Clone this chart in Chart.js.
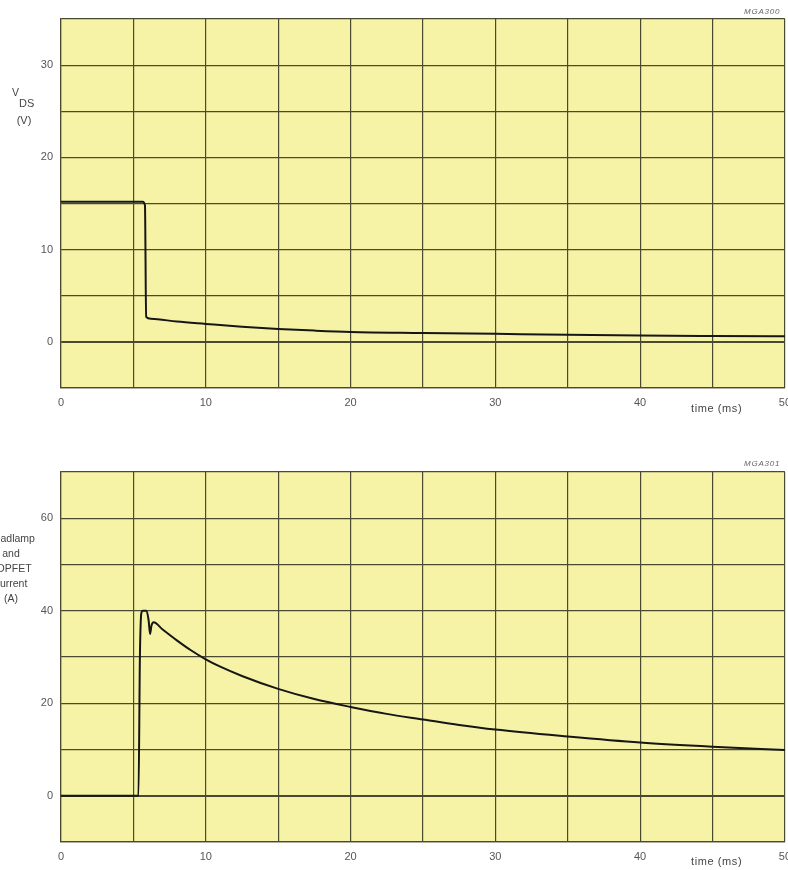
<!DOCTYPE html>
<html><head><meta charset="utf-8">
<script src="https://cdn.jsdelivr.net/npm/chart.js@4/dist/chart.umd.min.js"></script>
<style>
html,body{margin:0;padding:0;background:#fff;width:788px;height:870px;overflow:hidden;position:relative;font-family:"Liberation Sans",Arial,sans-serif;}
.box{position:absolute;left:0;width:799px;}
.lbl{position:absolute;color:#444;font-size:11px;white-space:nowrap;}
.code{position:absolute;color:#666;font-size:8px;font-style:italic;letter-spacing:0.8px;}
.ctr{text-align:center;transform:translateX(-50%);}
.tm{position:absolute;color:#444;font-size:11px;letter-spacing:0.6px;white-space:nowrap;}
</style></head><body>
<div class="box" style="top:0;height:420px;"><canvas id="c1"></canvas></div>
<div class="box" style="top:440px;height:430px;"><canvas id="c2"></canvas></div>
<div class="code" style="left:744px;top:7px;">MGA300</div>
<div class="code" style="left:744px;top:459px;">MGA301</div>
<div class="lbl" style="left:12px;top:86px;font-size:10.5px;">V</div>
<div class="lbl" style="left:19px;top:97px;font-size:11px;">DS</div>
<div class="lbl ctr" style="left:24px;top:114px;">(V)</div>
<div class="tm" style="left:691px;top:402px;">time (ms)</div>
<div class="tm" style="left:691px;top:855px;">time (ms)</div>
<div class="lbl ctr" style="left:11px;top:531px;line-height:15px;font-size:10.5px;">Headlamp<br>and<br>TOPFET<br>current<br>(A)</div>
<script>
const timeV = [0, 5.65, 5.8, 5.88, 6.2, 8, 10, 12.5, 15, 17.5, 20, 25, 30, 35, 40, 45, 50];
const vds   = [15.2, 15.2, 14.8, 2.7, 2.5, 2.2, 1.95, 1.65, 1.4, 1.22, 1.08, 0.97, 0.87, 0.77, 0.69, 0.64, 0.6];
const timeI = [0, 5.35, 5.45, 5.55, 5.65, 5.9, 6.05, 6.15, 6.25, 6.4, 7, 8, 9, 10, 11, 12.5, 15, 17.5, 20, 22.5, 25, 27.5, 30, 35, 40, 45, 50];
const current = [0, 0, 30, 39.5, 40, 40, 38, 35, 36.8, 37.5, 36.0, 33.6, 31.4, 29.5, 27.9, 25.9, 23.1, 20.9, 19.2, 17.7, 16.5, 15.3, 14.3, 12.8, 11.5, 10.6, 9.9];
const xTicks = [0, 10, 20, 30, 40, 50];
const vTicks = [0, 10, 20, 30];
const iTicks = [0, 20, 40, 60];

const gridCol = '#4a4a32';
const bgPlugin = {id:'bg', beforeDraw(ch){const a=ch.chartArea,c=ch.ctx;c.save();c.fillStyle='#f7f3a6';c.fillRect(a.left,a.top,a.right-a.left,a.bottom-a.top);c.restore();}};

function mk(id, tx, ty, yMin, yMax, yStep, yLab, padTop, xH){
  const pts = tx.map((t,i)=>({x:t,y:ty[i]}));
  return new Chart(document.getElementById(id), {
    type:'line',
    data:{datasets:[{data:pts, borderColor:'#161616', borderWidth:2, pointRadius:0, fill:false, cubicInterpolationMode:'monotone'}]},
    options:{
      responsive:true, maintainAspectRatio:false, animation:false,
      layout:{padding:{left:0,right:4,top:padTop,bottom:0}},
      plugins:{legend:{display:false}, tooltip:{enabled:false}},
      scales:{
        x:{type:'linear', min:0, max:50,
          ticks:{stepSize:5, padding:8, color:'#555', font:{size:11,family:'Liberation Sans'}, maxRotation:0, autoSkip:false,
            callback:v=>xTicks.includes(v)?String(v):''},
          grid:{color:gridCol, lineWidth:1.2, drawTicks:false},
          border:{color:gridCol, width:1.2},
          afterFit(s){s.height=xH;}},
        y:{type:'linear', min:yMin, max:yMax,
          ticks:{stepSize:yStep, padding:8, color:'#555', font:{size:11,family:'Liberation Sans'},
            callback:v=>yLab.includes(v)?String(v):''},
          grid:{color:gridCol, lineWidth:c=>c.tick&&c.tick.value===0?2:1.2, drawTicks:false},
          border:{color:gridCol, width:1.2},
          afterFit(s){s.width=61;}}
      }
    },
    plugins:[bgPlugin]
  });
}
mk('c1', timeV, vds, -5, 35, 5, vTicks, 19, 32);
mk('c2', timeI, current, -10, 70, 10, iTicks, 32, 28);
</script>
</body></html>
